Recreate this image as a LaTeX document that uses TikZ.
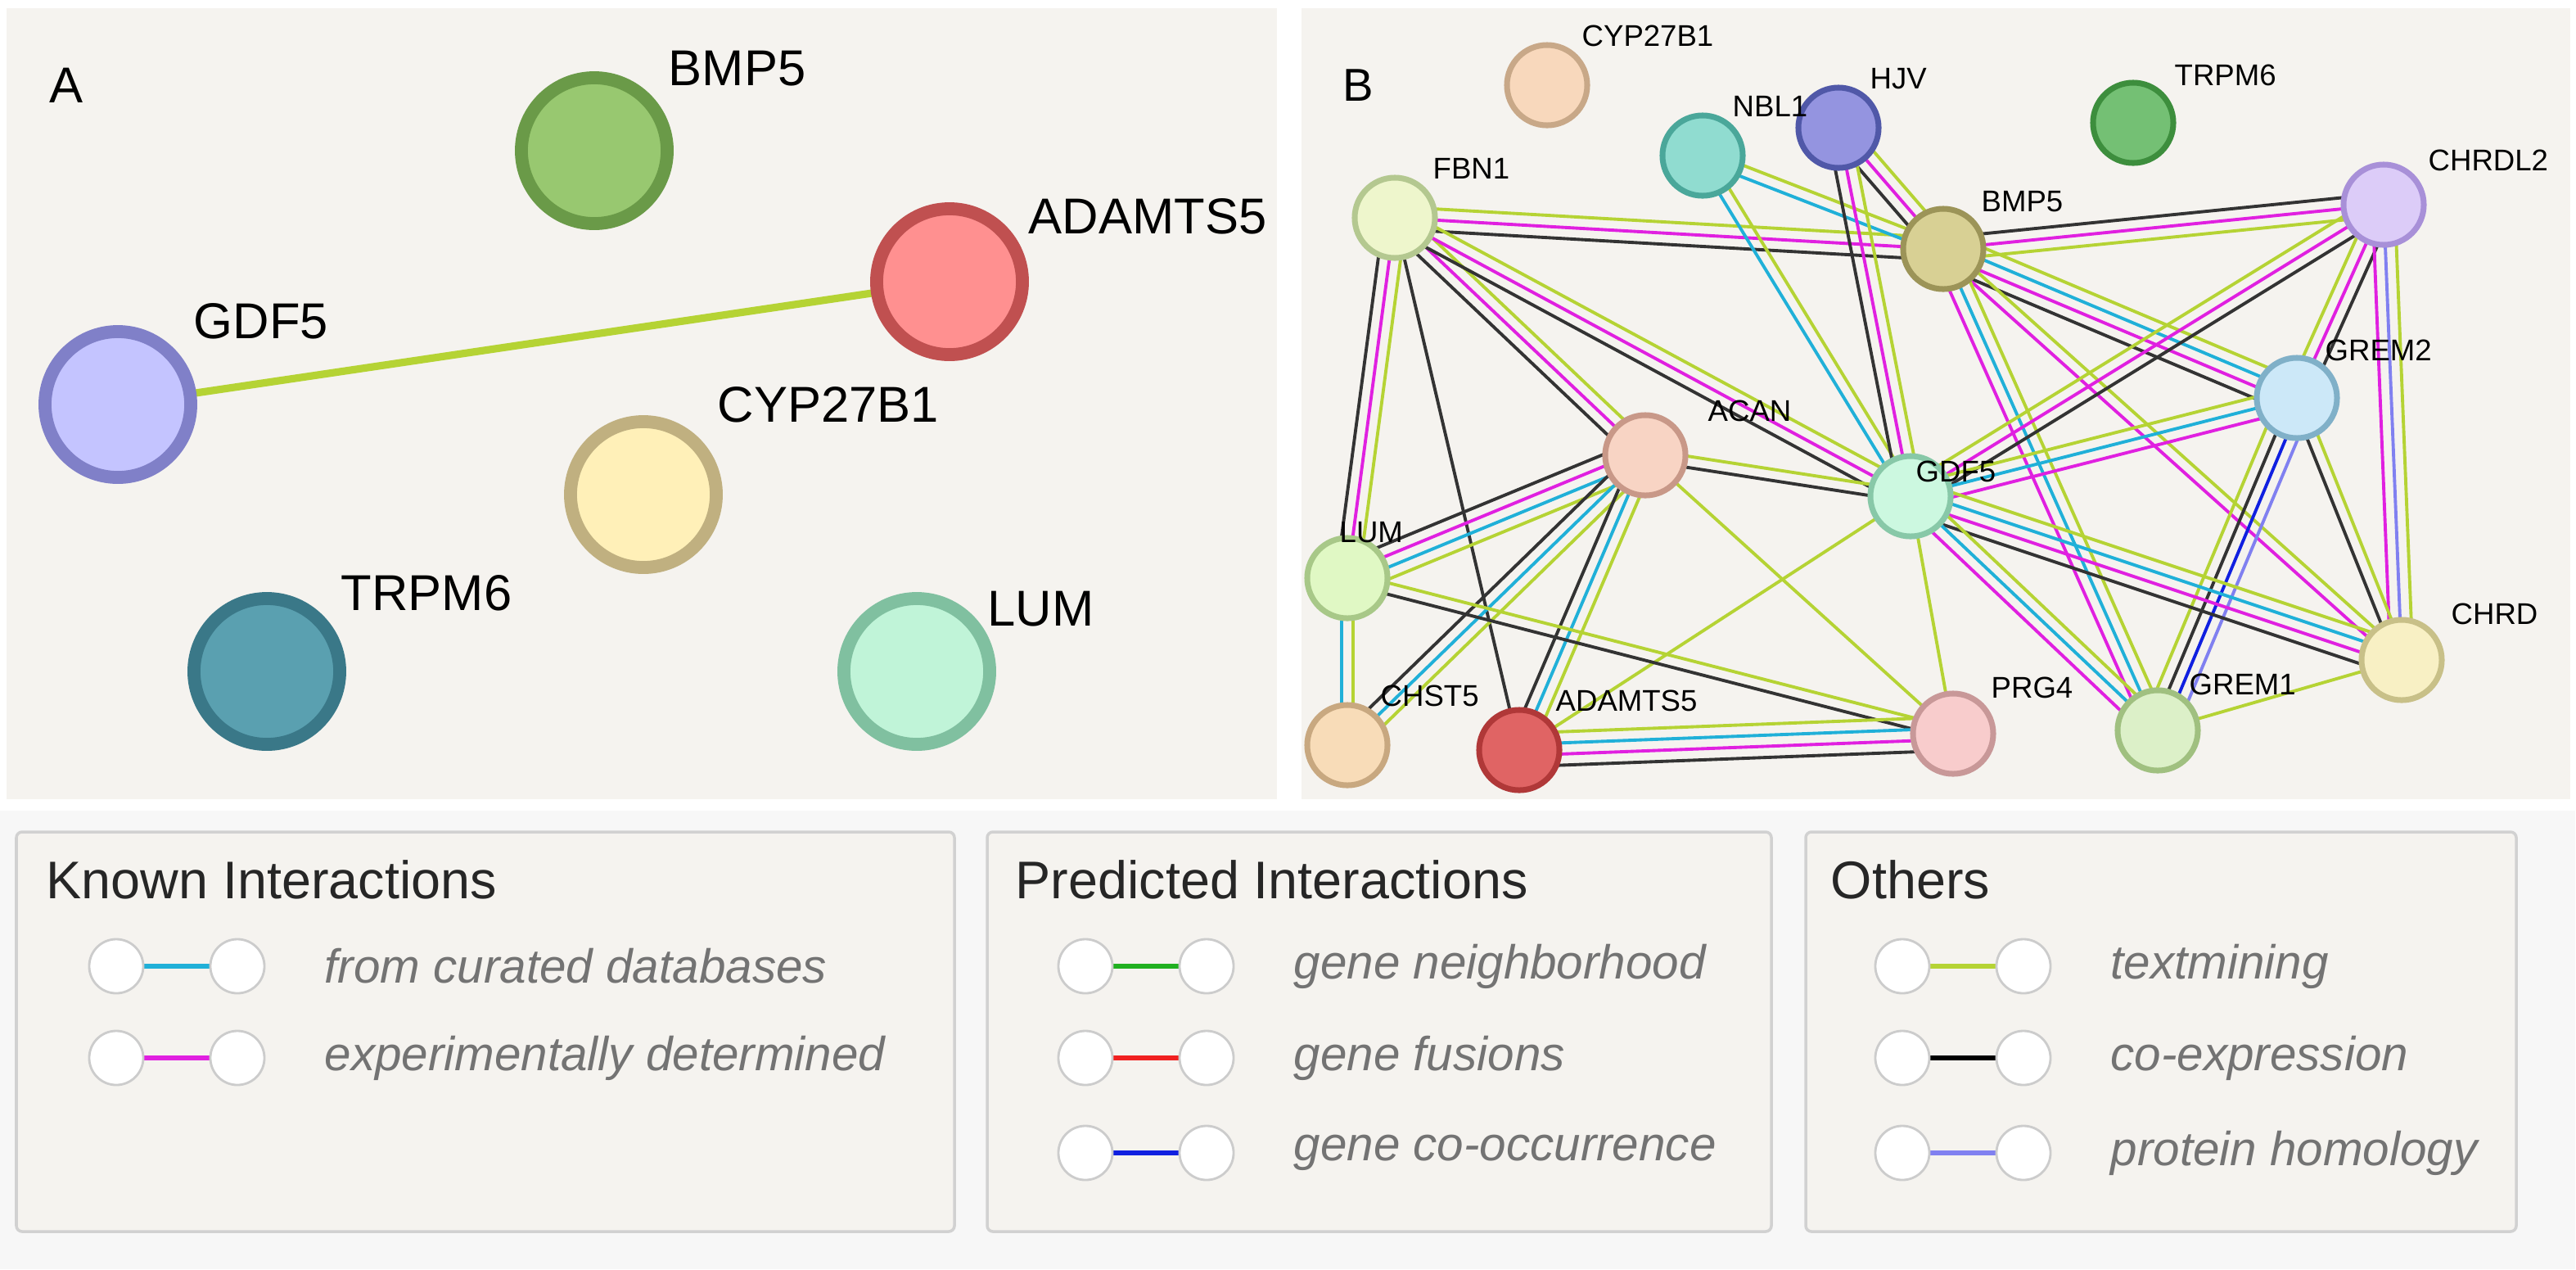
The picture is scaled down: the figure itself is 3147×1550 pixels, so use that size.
\documentclass[tikz,border=0pt]{standalone}
\usepackage{fontspec}
\setmainfont{Liberation Sans}
\usetikzlibrary{calc}
\definecolor{bgp}{HTML}{F5F3EF}
\definecolor{tm}{HTML}{B5D334}
\definecolor{co}{HTML}{333333}
\definecolor{ex}{HTML}{E020E0}
\definecolor{db}{HTML}{20B0D8}
\definecolor{ho}{HTML}{8080F0}
\definecolor{cc}{HTML}{1020E0}
\definecolor{gn}{HTML}{20B020}
\definecolor{fu}{HTML}{F02020}
\newcommand\medge[4]{%
  \foreach \ecol [count=\i] in {#4}{%
    \pgfmathsetmacro\off{(\i-(#3+1)/2)*0.068}%
    \draw[\ecol,line width=1.1pt] ($(#1)!\off cm!90:(#2)$) -- ($(#2)!\off cm!-90:(#1)$);}}
\newcommand\bnode[3]{%
  \definecolor{f#1}{HTML}{#2}\definecolor{r#1}{HTML}{#3}%
  \node[circle,minimum size=0.98cm,inner sep=0pt,fill=f#1,draw=r#1,line width=2pt] (n#1) at (#1) {};}
\newcommand\anode[3]{%
  \definecolor{f#1}{HTML}{#2}\definecolor{r#1}{HTML}{#3}%
  \node[circle,minimum size=1.78cm,inner sep=0pt,fill=f#1,draw=r#1,line width=4.5pt] (m#1) at (#1) {};}
\tikzset{lab/.style={anchor=west,font=\fontsize{10.4}{12}\selectfont,inner sep=0pt},
 alab/.style={anchor=west,font=\fontsize{17.5}{20}\selectfont,inner sep=0pt},
 box/.style={fill=bgp,draw=black!18,line width=1pt,rounded corners=2pt},
 ttl/.style={anchor=west,font=\fontsize{18.4}{22}\selectfont,text=black!85,inner sep=0pt},
 itm/.style={anchor=west,font=\fontsize{16.6}{20}\itshape\selectfont,text=black!55,inner sep=0pt},
 pill/.style={circle,minimum size=0.66cm,inner sep=0pt,fill=white,draw=black!20,line width=0.8pt}}
\begin{document}
\begin{tikzpicture}[x=0.01cm,y=-0.01cm]
\fill[white] (0,0) rectangle (3147,1550);
\useasboundingbox (0,0) rectangle (3147,1550);
\begin{scope}[scale=2.0]
\fill[bgp] (4,5) rectangle (780,488);
\fill[bgp] (795,5) rectangle (1570,488);
\fill[black!3] (0,495) rectangle (1573,775);
\node[alab] (lA) at (30,52) {A};
\node[alab,font=\fontsize{16}{18}\selectfont] (lB) at (820,52) {B};
% ---------------- Panel A
\coordinate (aBMP) at (363,92); \coordinate (aAD) at (580,172);
\coordinate (aG) at (72,247); \coordinate (aCY) at (393,302);
\coordinate (aTR) at (163,410); \coordinate (aLU) at (560,410);
\draw[tm,line width=2.6pt] (aG) -- (aAD);
\anode{aBMP}{98C870}{6A9A48}
\anode{aAD}{FF9090}{C05050}
\anode{aG}{C4C4FF}{8080C8}
\anode{aCY}{FFF0B8}{C0B080}
\anode{aTR}{5AA0B0}{3A7888}
\anode{aLU}{C0F4D8}{80C0A0}
\node[alab] (tBMP) at (408,42) {BMP5};
\node[alab] (tAD) at (628,132) {ADAMTS5};
\node[alab] (tG) at (118,196) {GDF5};
\node[alab] (tCY) at (438,247) {CYP27B1};
\node[alab] (tTR) at (208,362) {TRPM6};
\node[alab] (tLU) at (603,372) {LUM};
% ---------------- Panel B
\coordinate (CYP) at (945,52); \coordinate (NBL) at (1040,95);
\coordinate (HJV) at (1123,78); \coordinate (TRP) at (1303,75);
\coordinate (FBN) at (852,133); \coordinate (BMP) at (1187,152);
\coordinate (CHL) at (1456,125); \coordinate (GR2) at (1403,243);
\coordinate (ACA) at (1005,278); \coordinate (GDF) at (1167,303);
\coordinate (LUM) at (823,353); \coordinate (CHR) at (1467,403);
\coordinate (CHS) at (823,455); \coordinate (ADA) at (928,458);
\coordinate (PRG) at (1193,448); \coordinate (GR1) at (1318,446);
\medge{FBN}{BMP}{3}{co,ex,tm}
\medge{FBN}{ACA}{3}{co,ex,tm}
\medge{FBN}{GDF}{3}{co,ex,tm}
\medge{FBN}{LUM}{3}{co,ex,tm}
\medge{FBN}{ADA}{1}{co}
\medge{NBL}{BMP}{2}{db,tm}
\medge{NBL}{GDF}{2}{db,tm}
\medge{HJV}{BMP}{3}{co,ex,tm}
\medge{HJV}{GDF}{3}{co,ex,tm}
\medge{BMP}{CHL}{3}{tm,ex,co}
\medge{BMP}{GR2}{4}{co,ex,db,tm}
\medge{BMP}{CHR}{2}{ex,tm}
\medge{BMP}{GR1}{3}{ex,db,tm}
\medge{CHL}{GDF}{3}{tm,ex,co}
\medge{CHL}{GR2}{3}{tm,ex,co}
\medge{CHL}{CHR}{3}{ex,ho,tm}
\medge{GR2}{GDF}{3}{tm,db,ex}
\medge{GR2}{GR1}{4}{tm,co,cc,ho}
\medge{GR2}{CHR}{2}{co,tm}
\medge{ACA}{GDF}{2}{co,tm}
\medge{ACA}{LUM}{4}{co,ex,db,tm}
\medge{ACA}{CHS}{3}{co,db,tm}
\medge{ACA}{ADA}{3}{co,db,tm}
\medge{ACA}{PRG}{1}{tm}
\medge{GDF}{CHR}{4}{co,ex,db,tm}
\medge{GDF}{GR1}{3}{ex,db,tm}
\medge{GDF}{PRG}{1}{tm}
\medge{GDF}{ADA}{1}{tm}
\medge{LUM}{CHS}{2}{db,tm}
\medge{LUM}{PRG}{2}{co,tm}
\medge{ADA}{PRG}{4}{co,ex,db,tm}
\medge{GR1}{CHR}{1}{tm}
\bnode{CYP}{F8D8BC}{C8A888}
\bnode{NBL}{90DCD0}{4AA79A}
\bnode{HJV}{9494E0}{5058A8}
\bnode{TRP}{74C074}{3D8E3D}
\bnode{FBN}{EEF6CC}{B4C890}
\bnode{BMP}{D8D094}{9C9458}
\bnode{CHL}{DCCCF8}{A890D8}
\bnode{GR2}{CCE8F8}{80B0C8}
\bnode{ACA}{F8D4C4}{C89888}
\bnode{GDF}{CCF8E0}{88C8A8}
\bnode{LUM}{E0F8C4}{A8C888}
\bnode{CHR}{F8F0C4}{C8C088}
\bnode{CHS}{F8DCB8}{C8A880}
\bnode{ADA}{E06464}{B03838}
\bnode{PRG}{F8CCCC}{C89898}
\bnode{GR1}{DCF0C8}{A0C080}
\node[lab] (tCYP) at (966,22) {CYP27B1};
\node[lab] (tNBL) at (1058,65) {NBL1};
\node[lab] (tHJV) at (1142,48) {HJV};
\node[lab] (tTRP) at (1328,46) {TRPM6};
\node[lab] (tFBN) at (875,103) {FBN1};
\node[lab] (tBMP) at (1210,123) {BMP5};
\node[lab] (tCHL) at (1483,98) {CHRDL2};
\node[lab] (tGR2) at (1420,214) {GREM2};
\node[lab] (tACA) at (1043,251) {ACAN};
\node[lab] (tGDF) at (1170,288) {GDF5};
\node[lab] (tLUM) at (818,325) {LUM};
\node[lab] (tCHR) at (1497,375) {CHRD};
\node[lab] (tCHS) at (843,425) {CHST5};
\node[lab] (tADA) at (950,428) {ADAMTS5};
\node[lab] (tPRG) at (1216,420) {PRG4};
\node[lab] (tGR1) at (1337,418) {GREM1};
% ---------------- Legend
\draw[box] (10,508) rectangle (583,752);
\draw[box] (603,508) rectangle (1082,752);
\draw[box] (1103,508) rectangle (1537,752);
\node[ttl] (k0) at (28,537) {Known Interactions};
\node[ttl] (p0) at (620,537) {Predicted Interactions};
\node[ttl] (o0) at (1118,537) {Others};
\newcommand\pil[5]{% id, x, y, color, text
  \coordinate (#1a) at (#2,#3); \coordinate (#1b) at ({#2+74},#3);
  \draw[#4,line width=1.8pt] (#1a) -- (#1b);
  \node[pill] (#1l) at (#1a) {}; \node[pill] (#1r) at (#1b) {};
  \node[itm] (#1t) at ({#2+127},#3) {#5};}
\pil{k1}{71}{590}{db}{from curated databases}
\pil{k2}{71}{646}{ex}{experimentally determined}
\pil{p1}{663}{590}{gn}{gene neighborhood}
\pil{p2}{663}{646}{fu}{gene fusions}
\pil{p3}{663}{704}{cc}{gene co-occurrence}
\pil{o1}{1162}{590}{tm}{textmining}
\pil{o2}{1162}{646}{black}{co-expression}
\pil{o3}{1162}{704}{ho}{protein homology}
\end{scope}
\end{tikzpicture}
\end{document}
